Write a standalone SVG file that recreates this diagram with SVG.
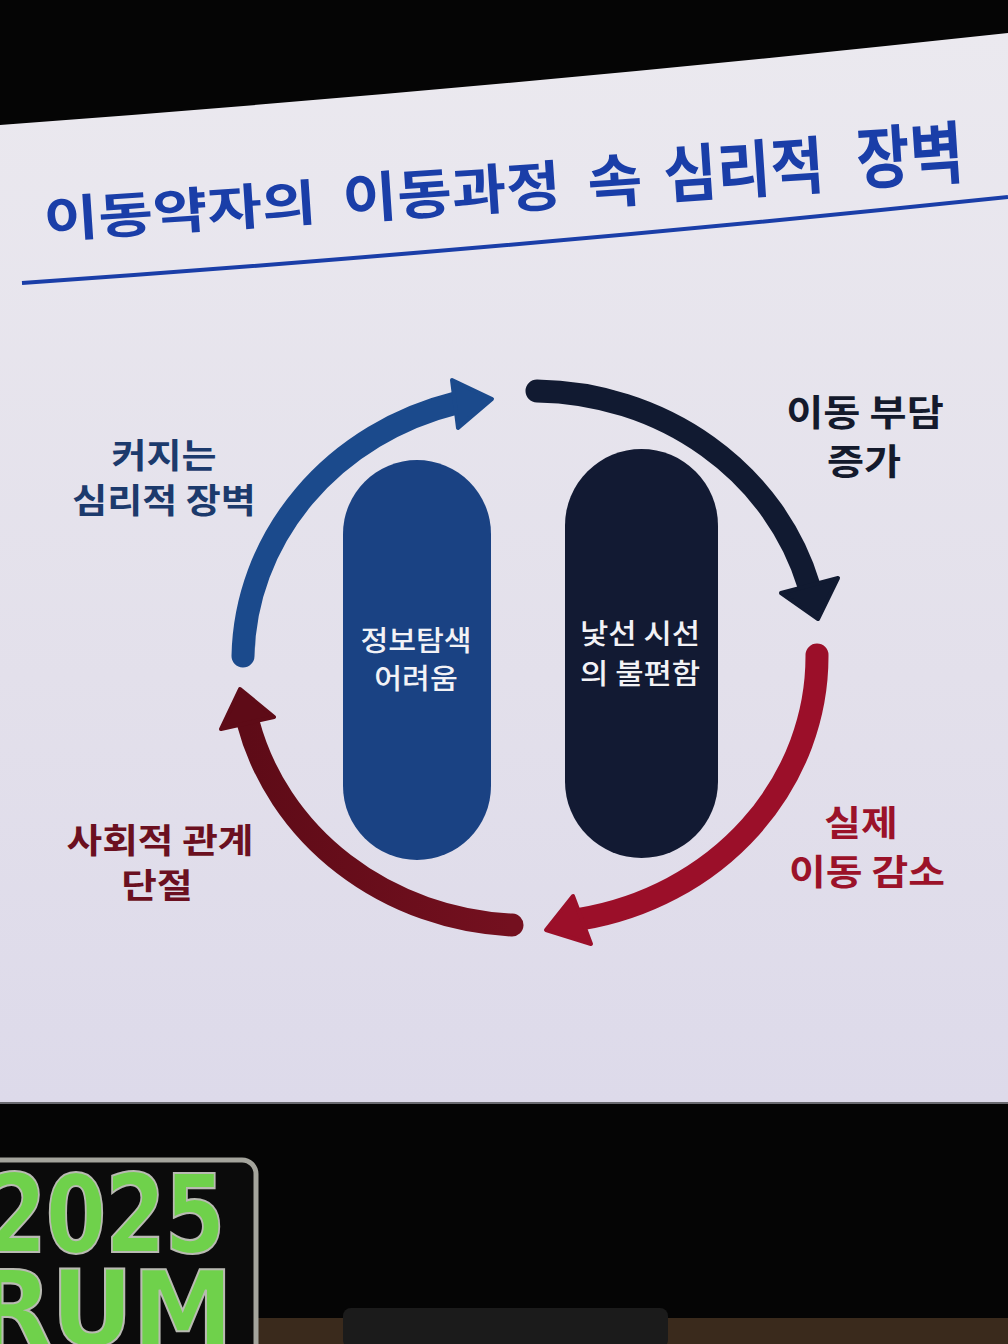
<svg xmlns="http://www.w3.org/2000/svg" width="1008" height="1344" viewBox="0 0 1008 1344">
  <defs>
    <linearGradient id="slideBg" x1="0" y1="0" x2="0" y2="1">
      <stop offset="0" stop-color="#ebe9ef"/>
      <stop offset="0.6" stop-color="#e3e0eb"/>
      <stop offset="1" stop-color="#dddaea"/>
    </linearGradient>
    <linearGradient id="darkRed" x1="0" y1="0" x2="1" y2="0">
      <stop offset="0" stop-color="#5e0b17"/>
      <stop offset="1" stop-color="#74101f"/>
    </linearGradient>
    <style>
      .title { font-family: "Noto Sans CJK KR", "Noto Sans", sans-serif; font-weight: 700; fill: #1a3ea8; }
      .lbl { font-family: "Noto Sans CJK KR", "Noto Sans", sans-serif; font-weight: 700; text-anchor: middle; }
      .pilltxt { font-family: "Noto Sans CJK KR", "Noto Sans", sans-serif; font-weight: 500; font-size: 28px; fill: #f2f2f6; text-anchor: middle; }
      .arc { fill: none; stroke-width: 23; stroke-linecap: round; }
      .head { stroke-width: 4; stroke-linejoin: round; }
      .blue { stroke: #1b4a8c; fill: #1b4a8c; }
      .navy { stroke: #111a31; fill: #111a31; }
      .red { stroke: #9b0f29; fill: #9b0f29; }
      .dred { stroke: url(#darkRed); }
      .logo { font-family: "DejaVu Sans", sans-serif; font-weight: 700; fill: #6fd14b; stroke: #b9bab2; stroke-width: 1.2; }
    </style>
  </defs>

  <!-- background: room -->
  <rect x="0" y="0" width="1008" height="1344" fill="#050505"/>
  <rect x="250" y="1318" width="758" height="26" fill="#3a2a1c"/>
  <rect x="343" y="1308" width="325" height="40" rx="8" fill="#1b1b1b"/>

  <!-- slide -->
  <path d="M0,125 Q500,88 1008,33 L1008,1103 L0,1103 Z" fill="url(#slideBg)"/>
  <line x1="0" y1="1103" x2="1008" y2="1103" stroke="#6a6a70" stroke-width="2"/>

  <!-- title -->
  <g id="title">
    <g transform="translate(45,238) rotate(-3.8) scale(1.06,0.88)"><text class="title" font-size="56">이동약자의</text></g>
    <g transform="translate(344,219) rotate(-3.8) scale(1.06,0.97)"><text class="title" font-size="56">이동과정</text></g>
    <g transform="translate(589,204) rotate(-3.8) scale(1.06,1.04)"><text class="title" font-size="56">속</text></g>
    <g transform="translate(665,198) rotate(-3.8) scale(1.04,1.12)"><text class="title" font-size="56">심리적</text></g>
    <g transform="translate(858,184) rotate(-3.8) scale(1.04,1.22)"><text class="title" font-size="56">장벽</text></g>
    <path d="M22,283 Q500,250 1008,197" fill="none" stroke="#1a3ea8" stroke-width="4"/>
  </g>

  <!-- connectors: cycle arrows -->
  <g id="connectors">
    <path class="arc blue" style="fill:none" d="M243,656 A287,267 0 0 1 456,403"/>
    <polygon class="head blue" points="452,380 492,399 458,428"/>
    <path class="arc navy" style="fill:none" d="M537,391 A287,267 0 0 1 809,586"/>
    <polygon class="head navy" points="781,593 818,619 838,578"/>
    <path class="arc red" style="fill:none" d="M817,655 A287,267 0 0 1 581,919"/>
    <polygon class="head red" points="573,896 546,930 591,944"/>
    <path class="arc dred" d="M512,925 A287,267 0 0 1 248,722"/>
    <polygon class="head" points="221,729 240,689 274,717" fill="#5e0b17" stroke="#5e0b17"/>
  </g>

  <!-- central pills -->
  <g id="node-info">
    <rect x="343" y="460" width="148" height="400" rx="74" fill="#1a4283"/>
    <g transform="translate(416,651) scale(1.08,1)"><text class="pilltxt">정보탐색</text></g>
    <g transform="translate(416,689) scale(1.08,1)"><text class="pilltxt">어려움</text></g>
  </g>
  <g id="node-gaze">
    <rect x="565" y="449" width="153" height="409" rx="76.5" fill="#121a33"/>
    <g transform="translate(640,644) scale(1.1,1)"><text class="pilltxt">낯선 시선</text></g>
    <g transform="translate(640,684) scale(1.1,1)"><text class="pilltxt">의 불편함</text></g>
  </g>

  <!-- cycle labels -->
  <g id="label-barrier">
    <g transform="translate(164,468) scale(1.12,1)"><text class="lbl" font-size="34" fill="#1c3a6c">커지는</text></g>
    <g transform="translate(164,513) scale(1.12,1)"><text class="lbl" font-size="34" fill="#1c3a6c">심리적 장벽</text></g>
  </g>
  <g id="label-burden">
    <g transform="translate(865,426) scale(1.12,1)"><text class="lbl" font-size="36" fill="#141a2c">이동 부담</text></g>
    <g transform="translate(864,475) scale(1.12,1)"><text class="lbl" font-size="36" fill="#141a2c">증가</text></g>
  </g>
  <g id="label-decrease">
    <g transform="translate(861,836) scale(1.14,1)"><text class="lbl" font-size="35" fill="#9b1229">실제</text></g>
    <g transform="translate(867,885) scale(1.14,1)"><text class="lbl" font-size="35" fill="#9b1229">이동 감소</text></g>
  </g>
  <g id="label-isolation">
    <g transform="translate(160,853) scale(1.14,1)"><text class="lbl" font-size="34" fill="#6b1020">사회적 관계</text></g>
    <g transform="translate(157,898) scale(1.14,1)"><text class="lbl" font-size="34" fill="#6b1020">단절</text></g>
  </g>

  <!-- foreground logo -->
  <g id="logo">
    <rect x="-20" y="1160" width="276" height="200" rx="14" fill="#0b0b0b" stroke="#a4a49c" stroke-width="5"/>
    <g transform="translate(-14,1252) scale(1.46,1.8)"><text class="logo" font-size="60" letter-spacing="-1">2025</text></g>
    <g transform="translate(-26,1346) scale(1.7,1.75)"><text class="logo" font-size="60" letter-spacing="-1">RUM</text></g>
  </g>
</svg>
